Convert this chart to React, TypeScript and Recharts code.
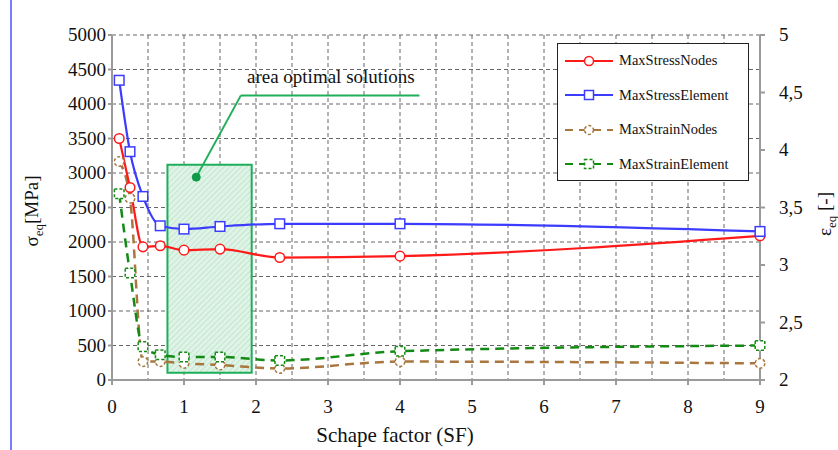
import React from 'react';
import {
    LineChart, Line, XAxis, YAxis, CartesianGrid,
    ReferenceArea, ReferenceLine, ReferenceDot,
} from 'recharts';

// shape factor values (x)
const shapeFactor = [0.1, 0.25, 0.43, 0.67, 1.0, 1.5, 2.33, 4, 9];
// stress, MPa (left axis)
const maxStressNodes = [3500, 2790, 1930, 1945, 1882, 1897, 1775, 1795, 2090];
const maxStressElement = [4344, 3309, 2660, 2235, 2187, 2225, 2264, 2264, 2153];
// strain, - (right axis)
const maxStrainNodes = [3.9, 3.58, 2.16, 2.16, 2.145, 2.13, 2.1, 2.16, 2.145];
const maxStrainElement = [3.62, 2.93, 2.29, 2.22, 2.2, 2.2, 2.17, 2.25, 2.3];

const xTicks = [0, 1, 2, 3, 4, 5, 6, 7, 8, 9];
const xGridTicks = [0, 0.5, 1, 1.5, 2, 2.5, 3, 3.5, 4, 4.5, 5, 5.5, 6, 6.5, 7, 7.5, 8, 8.5, 9];
const stressTicks = [0, 500, 1000, 1500, 2000, 2500, 3000, 3500, 4000, 4500, 5000];
const strainTicks = [2, 2.5, 3, 3.5, 4, 4.5, 5];

// area optimal solutions
const optArea = { x1: 0.77, x2: 1.94, y1: 106, y2: 3120 };
const optPointer = [{ x: 1.17, y: 2940 }, { x: 1.79, y: 4125 }, { x: 4.27, y: 4125 }];

const data = shapeFactor.map((sf, i) => ({
    sf,
    stressNodes: maxStressNodes[i],
    stressElement: maxStressElement[i],
    strainNodes: maxStrainNodes[i],
    strainElement: maxStrainElement[i],
}));

const RED = '#ff1a1a';
const BLUE = '#3c3cff';
const BROWN = '#a8763e';
const GREEN = '#138a13';
const FONT = 'Liberation Serif, Times New Roman, serif';

const circleDot = (color: string, dashed: boolean) => (p: any) => (
    <circle key={p.index} cx={p.cx} cy={p.cy} r={4.8} fill="#fff" stroke={color}
        strokeWidth={1.5} strokeDasharray={dashed ? '3 2' : undefined} />
);
const squareDot = (color: string, dashed: boolean) => (p: any) => (
    <rect key={p.index} x={p.cx - 4.8} y={p.cy - 4.8} width={9.6} height={9.6} fill="#fff"
        stroke={color} strokeWidth={1.5} strokeDasharray={dashed ? '3 2' : undefined} />
);

// serif tick labels
const XTick = (p: any) => (
    <text x={p.x} y={p.y} dy={20} textAnchor="middle" fontFamily={FONT} fontSize={19} fill="#111">{p.payload.value}</text>
);
const LeftTick = (p: any) => (
    <text x={p.x} y={p.y} dy={6} textAnchor="end" fontFamily={FONT} fontSize={19} fill="#111">{p.payload.value}</text>
);
const RightTick = (p: any) => (
    <text x={p.x} y={p.y} dy={6} textAnchor="start" fontFamily={FONT} fontSize={19} fill="#111">
        {String(p.payload.value).replace('.', ',')}
    </text>
);

const legendItems = [
    { name: 'MaxStressNodes', color: RED, dash: undefined, marker: 'circle' },
    { name: 'MaxStressElement', color: BLUE, dash: undefined, marker: 'square' },
    { name: 'MaxStrainNodes', color: BROWN, dash: '8 6', marker: 'circle' },
    { name: 'MaxStrainElement', color: GREEN, dash: '8 6', marker: 'square' },
];

const ChartLegend = () => (
    <div style={{
        position: 'absolute', left: 557, top: 43, border: '1.5px solid #222', background: '#fff',
        width: 192, height: 138, boxSizing: 'border-box', fontFamily: FONT, fontSize: 14.5, color: '#111',
    }}>
        {legendItems.map((it, i) => (
            <div key={it.name} style={{ position: 'absolute', left: 6, top: 8 + i * 34.5, display: 'flex', alignItems: 'center' }}>
                <svg width={50} height={16}>
                    <line x1={1} y1={8} x2={49} y2={8} stroke={it.color} strokeWidth={2.2} strokeDasharray={it.dash} />
                    {it.marker === 'circle'
                        ? <circle cx={25} cy={8} r={4.5} fill="#fff" stroke={it.color} strokeWidth={1.5} strokeDasharray={it.dash ? '3 2' : undefined} />
                        : <rect x={20.5} y={3.5} width={9} height={9} fill="#fff" stroke={it.color} strokeWidth={1.5} strokeDasharray={it.dash ? '3 2' : undefined} />}
                </svg>
                <span style={{ marginLeft: 5 }}>{it.name}</span>
            </div>
        ))}
    </div>
);

const LeftLabel = () => (
    <text x={38} y={211} transform="rotate(-90 38 211)" textAnchor="middle" fontFamily={FONT} fontSize={19} fill="#111">
        σ<tspan fontSize={13} dy={5}>eq</tspan><tspan dy={-5}>[MPa]</tspan>
    </text>
);

const RightLabel = () => (
    <text x={831} y={214} transform="rotate(-90 831 214)" textAnchor="middle" fontFamily={FONT} fontSize={19} fill="#111">
        ε<tspan fontSize={13} dy={5}>eq</tspan><tspan dy={-5}> [-]</tspan>
    </text>
);

const BottomLabel = () => (
    <text x={395} y={442} textAnchor="middle" fontFamily={FONT} fontSize={21} fill="#111">Schape factor (SF)</text>
);

const App: React.FC = () => {
    return (
        <div style={{ position: 'absolute', left: 0, top: 0, width: 838, height: 450, background: '#fff', fontFamily: FONT }}>
            <div style={{ position: 'absolute', left: 10, top: 0, width: 2, height: 450, background: '#7b7bff' }} />
            <LineChart width={838} height={450} data={data} margin={{ top: 35, right: 0, left: 0, bottom: 0 }}>
                <defs>
                    <pattern id="hatch" width="4" height="4" patternUnits="userSpaceOnUse" patternTransform="rotate(45)">
                        <rect width="4" height="4" fill="#dff3e6" />
                        <line x1="0" y1="0" x2="0" y2="4" stroke="#a6dcb8" strokeWidth="1" />
                    </pattern>
                </defs>
                <XAxis xAxisId="grid" dataKey="sf" type="number" domain={[0, 9]} ticks={xGridTicks} hide />
                <CartesianGrid xAxisId="grid" yAxisId="left" stroke="#666" strokeDasharray="4 3" />
                <XAxis dataKey="sf" type="number" domain={[0, 9]} ticks={xTicks} interval={0}
                    height={70} stroke="#9a9a9a" strokeWidth={2} tickSize={5} tickMargin={8} tick={XTick} />
                <YAxis yAxisId="left" domain={[0, 5000]} ticks={stressTicks} interval={0} width={112}
                    stroke="#9a9a9a" strokeWidth={2} tickSize={4} tickMargin={2} tick={LeftTick} />
                <YAxis yAxisId="right" orientation="right" domain={[2, 5]} ticks={strainTicks} interval={0} width={78}
                    stroke="#9a9a9a" strokeWidth={2} tickSize={5} tickMargin={14} tick={RightTick} />
                <ReferenceArea yAxisId="left" x1={optArea.x1} x2={optArea.x2} y1={optArea.y1} y2={optArea.y2}
                    fill="url(#hatch)" fillOpacity={1} stroke="#1fae5a" strokeWidth={2} ifOverflow="visible" />
                <ReferenceLine yAxisId="left" segment={[optPointer[0], optPointer[1]]} stroke="#1fae5a" strokeWidth={2} ifOverflow="visible" />
                <ReferenceLine yAxisId="left" segment={[optPointer[1], optPointer[2]]} stroke="#1fae5a" strokeWidth={2} ifOverflow="visible" />
                <ReferenceDot yAxisId="left" x={optPointer[0].x} y={optPointer[0].y} r={4} fill="#0f9a4a" stroke="#0f9a4a" />
                <ReferenceDot yAxisId="left" x={3.04} y={optPointer[1].y} r={0} stroke="none" ifOverflow="visible"
                    label={{ value: 'area optimal solutions', position: 'top', offset: 12, fontFamily: FONT, fontSize: 19, fill: '#111' }} />
                <Line yAxisId="right" type="monotone" dataKey="strainNodes" name="MaxStrainNodes" stroke={BROWN}
                    strokeWidth={2.5} strokeDasharray="9 6" dot={circleDot(BROWN, true)} isAnimationActive={false} />
                <Line yAxisId="right" type="monotone" dataKey="strainElement" name="MaxStrainElement" stroke={GREEN}
                    strokeWidth={2.5} strokeDasharray="9 6" dot={squareDot(GREEN, true)} isAnimationActive={false} />
                <Line yAxisId="left" type="monotone" dataKey="stressNodes" name="MaxStressNodes" stroke={RED}
                    strokeWidth={2.2} dot={circleDot(RED, false)} isAnimationActive={false} />
                <Line yAxisId="left" type="monotone" dataKey="stressElement" name="MaxStressElement" stroke={BLUE}
                    strokeWidth={2.2} dot={squareDot(BLUE, false)} isAnimationActive={false} />
                <LeftLabel />
                <RightLabel />
                <BottomLabel />
            </LineChart>
            <ChartLegend />
        </div>
    );
};

export default App;
